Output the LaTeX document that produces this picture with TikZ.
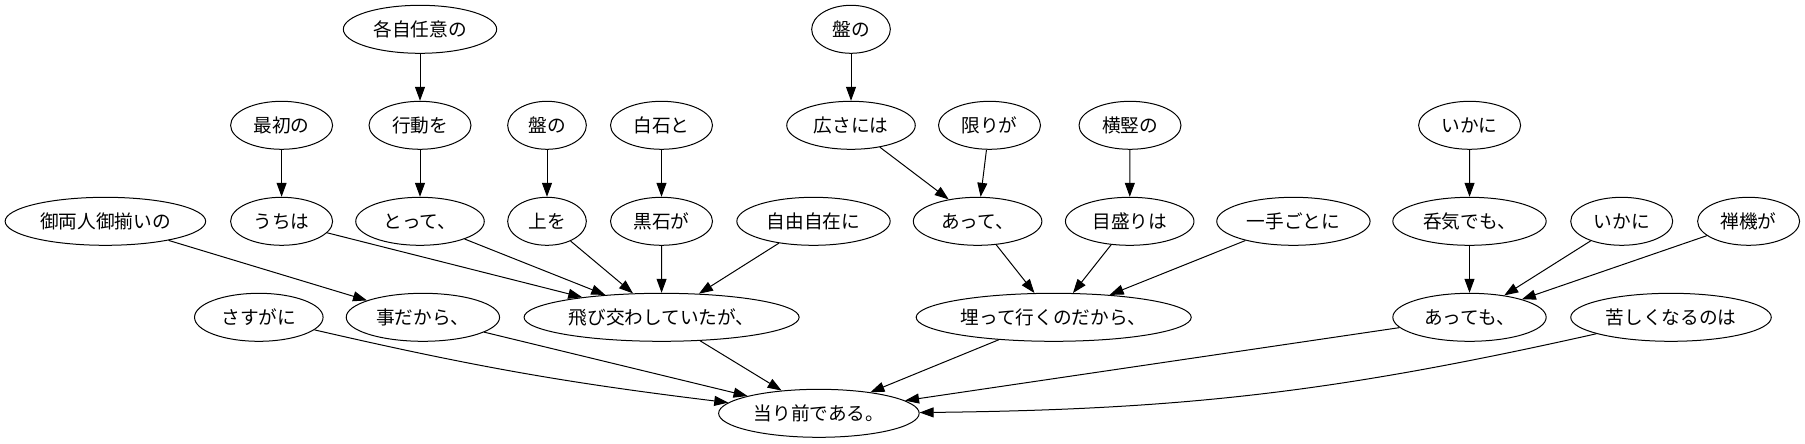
\documentclass[tikz,border=0pt]{standalone}
\usepackage{fontspec}
\newfontfamily\jp{Noto Sans CJK JP}
\usepackage{tikz}
\usetikzlibrary{shapes, arrows.meta}

\begin{document}
\begin{tikzpicture}[x=0.75pt, y=-0.75pt,
			w2/.style={minimum width=59pt},
			w3/.style={minimum width=76.5pt},
			w4/.style={minimum width=96.4pt},
			w5/.style={minimum width=115pt},
			w7/.style={minimum width=150.4pt},
			w10/.style={minimum width=206.3pt},
			dep/.style={-{Triangle[length=10.5pt,width=7.5pt]}, line width=0.75pt}]
			\tikzstyle{every node}=[draw, ellipse, minimum height=36pt, inner sep=0pt, line width=0.75pt, font=\jp\fontsize{14pt}{16pt}\selectfont]
			\useasboundingbox (0,0) rectangle (1805,443);
			% rank 1
			\node[w5] (kakuji) at (420,29.3) {各自任意の};
			\node[w2] (banR) at (851,29.3) {盤の};
			% rank 2
			\node[w3] (saisho) at (281.6,125.3) {最初の};
			\node[w3] (koudou) at (420,125.3) {行動を};
			\node[w2] (banL) at (547,125.3) {盤の};
			\node[w3] (shiroishi) at (661.5,125.3) {白石と};
			\node[w4] (hirosa) at (851,125.3) {広さには};
			\node[w3] (kagiri) at (989.5,125.3) {限りが};
			\node[w3] (tateyoko) at (1130,125.3) {横竪の};
			\node[w3] (ikani) at (1469.6,125.3) {いかに};
			% rank 3
			\node[w7] (goryounin) at (105.4,221.3) {御両人御揃いの};
			\node[w3] (uchi) at (281.6,221.3) {うちは};
			\node[w4] (totte) at (420,221.3) {とって、};
			\node[w2] (ue) at (547,221.3) {上を};
			\node[w3] (kuroishi) at (661.5,221.3) {黒石が};
			\node[w5] (jiyuu) at (813.5,221.3) {自由自在に};
			\node[w4] (atte) at (977.6,221.3) {あって、};
			\node[w4] (memori) at (1129.7,221.3) {目盛りは};
			\node[w5] (hitote) at (1293.4,221.3) {一手ごとに};
			\node[w5] (nonki) at (1469.5,221.3) {呑気でも、};
			\node[w3] (ikaniB) at (1621.7,221.3) {いかに};
			\node[w3] (zenki) at (1748.6,221.3) {禅機が};
			% rank 4
			\node[w4] (sasuga) at (258.8,317.3) {さすがに};
			\node[w5] (kotoda) at (422.9,317.3) {事だから、};
			\node[w10] (tobikawa) at (661.6,317.3) {飛び交わしていたが、};
			\node[w10] (uzumatte) at (1053.7,317.3) {埋って行くのだから、};
			\node[w5] (attemo) at (1469.5,317.3) {あっても、};
			\node[w7] (kurushiku) at (1671,317.3) {苦しくなるのは};
			% rank 5
			\node[w7] (atarimae) at (818.9,413.3) {当り前である。};

			\foreach \from/\to in {kakuji/koudou, koudou/totte, saisho/uchi, banL/ue,
				shiroishi/kuroishi, banR/hirosa, tateyoko/memori, ikani/nonki, nonki/attemo,
				uchi/tobikawa, totte/tobikawa, ue/tobikawa, kuroishi/tobikawa, jiyuu/tobikawa,
				goryounin/kotoda, hirosa/atte, kagiri/atte, atte/uzumatte, memori/uzumatte,
				hitote/uzumatte, ikaniB/attemo, zenki/attemo,
				kotoda/atarimae, tobikawa/atarimae, uzumatte/atarimae, attemo/atarimae}
				\draw[dep] (\from) -- (\to);
			\draw[dep] (sasuga) to[bend right=3] (atarimae);
			\draw[dep] (kurushiku) to[bend left=6] (atarimae);
		\end{tikzpicture}
\end{document}
